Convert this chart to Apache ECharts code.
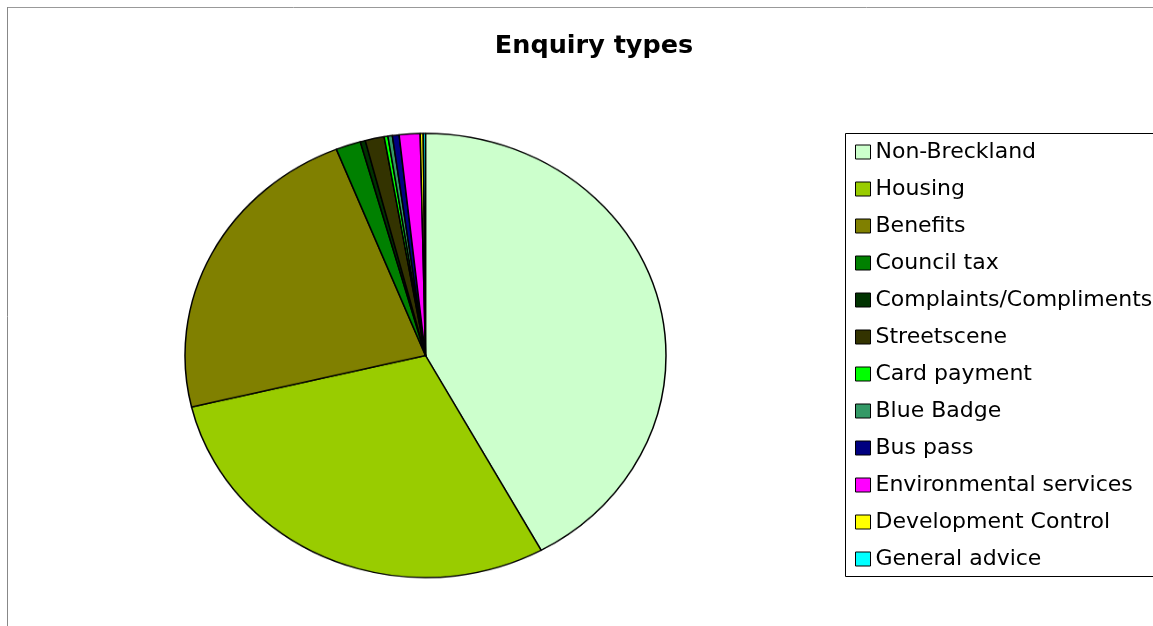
<!DOCTYPE html>
<html lang="en">
<head>
    <meta charset="UTF-8">
    <title>Enquiry types</title>
    <style>
        html, body { margin: 0; padding: 0; background: #fff; }
        #chart-wrap { position: relative; width: 1153px; height: 626px; }
        #main-chart { position: absolute; left: 0; top: 0; width: 1153px; height: 626px; }
        /* the pie in the original is a little squashed vertically */
        #pie-chart {
            position: absolute; left: 183.5px; top: 113.5px; width: 483px; height: 483px;
            transform: scaleY(0.9234); transform-origin: 50% 50%;
        }
    </style>
</head>
<body>
<div id="chart-wrap">
    <div id="main-chart"></div>
    <div id="pie-chart"></div>
</div>
<script src="https://cdn.jsdelivr.net/npm/echarts@6/dist/echarts.min.js"></script>
<script>
    // enquiry categories, in drawing order (clockwise from 12 o'clock)
    var categories = [
        'Non-Breckland', 'Housing', 'Benefits', 'Council tax',
        'Complaints/Compliments', 'Streetscene', 'Card payment', 'Blue Badge',
        'Bus pass', 'Environmental services', 'Development Control', 'General advice'
    ];
    // share of enquiries (%)
    var shares = [42.0, 29.25, 22.67, 1.67, 0.34, 1.28, 0.25, 0.3, 0.45, 1.4, 0.2, 0.15];
    var sliceColors = [
        '#ccffcc', '#99cc00', '#808000', '#008000',
        '#003300', '#333300', '#00ff00', '#339966',
        '#000080', '#ff00ff', '#ffff00', '#00ffff'
    ];

    var pieData = categories.map(function (name, i) {
        return {name: name, value: shares[i], itemStyle: {color: sliceColors[i]}};
    });

    // title, legend and frame
    var mainChart = echarts.init(document.getElementById('main-chart'));
    mainChart.setOption({
        animation: false,
        title: {
            text: 'Enquiry types',
            left: 589,
            top: 28,
            textAlign: 'center',
            textStyle: {
                fontFamily: 'DejaVu Sans',
                fontWeight: 'bold',
                fontSize: 25.5,
                color: '#000'
            }
        },
        legend: {
            orient: 'vertical',
            left: 855,
            top: 141,
            padding: 0,
            itemGap: 15,
            itemWidth: 15,
            itemHeight: 14,
            icon: 'rect',
            selectedMode: false,
            itemStyle: {borderColor: '#000', borderWidth: 1},
            textStyle: {
                fontFamily: 'DejaVu Sans',
                fontSize: 22,
                lineHeight: 22,
                color: '#000'
            },
            data: categories
        },
        graphic: [
            // outer chart frame (only top and left edges are visible)
            {type: 'line', shape: {x1: 7, y1: 7.5, x2: 1153, y2: 7.5}, style: {stroke: '#999', lineWidth: 1}},
            {type: 'line', shape: {x1: 7.5, y1: 7, x2: 7.5, y2: 626}, style: {stroke: '#888', lineWidth: 1}},
            // legend box, runs off the right edge
            {type: 'rect', shape: {x: 845.5, y: 133.5, width: 330, height: 443}, style: {fill: 'none', stroke: '#000', lineWidth: 1}}
        ],
        series: [
            {
                // only feeds the legend; the visible pie is drawn in #pie-chart
                name: 'Enquiry types',
                type: 'pie',
                center: [425, 355],
                radius: 0,
                silent: true,
                label: {show: false},
                labelLine: {show: false},
                itemStyle: {borderWidth: 0},
                data: pieData
            }
        ]
    });

    // the pie itself
    var pieChart = echarts.init(document.getElementById('pie-chart'));
    pieChart.setOption({
        animation: false,
        series: [
            {
                name: 'Enquiry types',
                type: 'pie',
                center: ['50%', '50%'],
                radius: 240.5,
                startAngle: 90,
                clockwise: true,
                avoidLabelOverlap: false,
                silent: true,
                label: {show: false},
                labelLine: {show: false},
                itemStyle: {borderColor: '#000', borderWidth: 1.5},
                emphasis: {disabled: true},
                data: pieData
            }
        ]
    });
</script>
</body>
</html>
